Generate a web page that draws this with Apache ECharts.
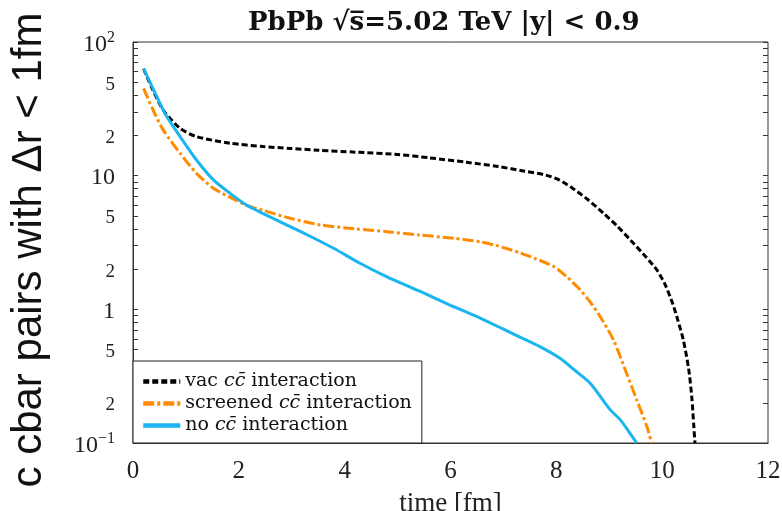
<!DOCTYPE html>
<html>
<head>
<meta charset="utf-8">
<script src="https://cdn.jsdelivr.net/npm/echarts@6/dist/echarts.min.js"></script>
<style>
  html, body { margin: 0; padding: 0; background: #fff; }
  #chart { width: 782px; height: 511px; }
</style>
</head>
<body>
<div id="chart"></div>
<script>
// time [fm] and pair counts
const vacT = [0.2, 0.35, 0.57, 0.89, 1.2, 1.83, 2.46, 2.97, 3.5, 4.2, 5.0, 5.6, 6.3, 6.9, 7.4, 7.8, 8.05, 8.3, 8.6, 8.9, 9.15, 9.4, 9.7, 9.9, 10.05, 10.2, 10.3, 10.4, 10.5, 10.56, 10.6, 10.62];
const vacV = [63, 46, 31, 22.6, 19.6, 17.5, 16.5, 16.0, 15.5, 15.0, 14.4, 13.6, 12.6, 11.7, 10.8, 10.1, 9.3, 8.1, 6.6, 5.2, 4.2, 3.3, 2.45, 1.97, 1.55, 1.1, 0.82, 0.59, 0.36, 0.22, 0.13, 0.1];

const scrT = [0.2, 0.38, 0.57, 0.89, 1.2, 1.52, 1.83, 2.15, 2.46, 2.97, 3.54, 4.2, 4.8, 5.4, 6.06, 6.56, 6.87, 7.31, 7.6, 7.95, 8.2, 8.45, 8.65, 8.83, 9.08, 9.33, 9.52, 9.71, 9.8];
const scrV = [45, 31, 22, 14.7, 10.4, 8.05, 6.9, 6.0, 5.5, 4.8, 4.28, 4.0, 3.81, 3.6, 3.40, 3.2, 3.0, 2.65, 2.4, 2.09, 1.75, 1.40, 1.12, 0.88, 0.59, 0.33, 0.21, 0.133, 0.1];

const noT = [0.2, 0.42, 0.62, 0.89, 1.2, 1.52, 1.83, 2.15, 2.46, 2.97, 3.3, 3.8, 4.29, 4.8, 5.43, 6.0, 6.18, 6.56, 7.0, 7.31, 7.69, 8.07, 8.35, 8.64, 9.02, 9.21, 9.38, 9.52];
const noV = [63.5, 41.3, 28.4, 19.6, 13.1, 9.3, 7.4, 6.0, 5.2, 4.16, 3.6, 2.85, 2.21, 1.75, 1.36, 1.07, 1.0, 0.86, 0.71, 0.62, 0.526, 0.43, 0.35, 0.28, 0.177, 0.149, 0.12, 0.1];

const yTicks = [0.1, 0.2, 0.3, 0.4, 0.5, 0.6, 0.7, 0.8, 0.9, 1, 2, 3, 4, 5, 6, 7, 8, 9, 10, 20, 30, 40, 50, 60, 70, 80, 90, 100];
const yLabels = [0.1, 0.2, 0.5, 1, 2, 5, 10, 20, 50, 100];

const legendText = {
  vac: 'vac {i|cc\u0304} interaction',
  screened: 'screened {i|cc\u0304} interaction',
  no: 'no {i|cc\u0304} interaction'
};

function pairs(t, v) {
  return t.map((x, i) => [x, v[i]]);
}

function yLabel(v) {
  if (v === 100) return '{maj|10}{sup|2}';
  if (v === 0.1) return '{maj|10}{sup|\u22121}';
  if (v === 10 || v === 1) return '{maj|' + v + '}';
  return '{min|' + String(v).replace(/[0.]/g, '') + '}';
}

const chart = echarts.init(document.getElementById('chart'));
chart.setOption({
  animation: false,
  title: {
    text: 'PbPb \u221As\u0305=5.02 TeV |y| < 0.9',
    left: 243,
    top: 5,
    textStyle: { fontFamily: 'DejaVu Serif', fontSize: 26, fontWeight: 'bold', color: '#111' }
  },
  grid: {
    left: 133, right: 14, top: 42, bottom: 68,
    outerBoundsMode: 'none',
    show: true, borderColor: '#333', borderWidth: 1
  },
  legend: {
    left: 133,
    bottom: 68,
    orient: 'vertical',
    itemWidth: 37,
    itemHeight: 10,
    itemGap: 3,
    padding: [11, 10, 8, 8],
    backgroundColor: '#fff',
    borderColor: '#222',
    borderWidth: 1,
    borderRadius: 0,
    itemStyle: { opacity: 0 },
    lineStyle: { width: 4.5 },
    formatter: name => legendText[name],
    textStyle: {
      fontFamily: 'DejaVu Serif',
      fontSize: 19,
      color: '#111',
      rich: {
        i: { fontFamily: 'DejaVu Serif', fontStyle: 'italic', fontSize: 19, color: '#111' }
      }
    }
  },
  xAxis: {
    type: 'value',
    min: 0,
    max: 12,
    interval: 2,
    name: 'time [fm]',
    nameLocation: 'middle',
    nameGap: 47,
    nameTextStyle: { fontFamily: 'Liberation Serif', fontSize: 27, color: '#222' },
    axisLine: { show: true, lineStyle: { color: '#333', width: 1 } },
    axisTick: { show: false },
    splitLine: { show: false },
    axisLabel: { margin: 16, fontFamily: 'Liberation Serif', fontSize: 25, color: '#222' }
  },
  yAxis: [
    {
      type: 'log',
      logBase: 10,
      min: 0.1,
      max: 100,
      position: 'left',
      axisLine: { show: true, lineStyle: { color: '#333', width: 1 } },
      axisTick: { show: true, inside: true, length: 5, customValues: yTicks, lineStyle: { color: '#333' } },
      splitLine: { show: false },
      axisLabel: {
        margin: 18,
        padding: [5, 0, 0, 0],
        customValues: yLabels,
        formatter: yLabel,
        rich: {
          maj: { fontFamily: 'Liberation Serif', fontSize: 24, color: '#222' },
          sup: { fontFamily: 'Liberation Serif', fontSize: 16, color: '#222', padding: [0, 0, 13, 0] },
          min: { fontFamily: 'Liberation Serif', fontSize: 19, color: '#222' }
        }
      }
    },
    {
      type: 'log',
      logBase: 10,
      min: 0.1,
      max: 100,
      position: 'right',
      axisLine: { show: false },
      axisTick: { show: true, inside: true, length: 5, customValues: yTicks, lineStyle: { color: '#333' } },
      splitLine: { show: false },
      axisLabel: { show: false }
    }
  ],
  graphic: [
    {
      type: 'text',
      x: 29,
      y: 250,
      rotation: Math.PI / 2,
      style: {
        text: 'c cbar pairs with \u0394r < 1fm',
        fontFamily: 'Liberation Sans',
        fontSize: 42,
        fill: '#111',
        textAlign: 'center',
        textVerticalAlign: 'middle'
      }
    }
  ],
  series: [
    {
      name: 'vac',
      type: 'line',
      data: pairs(vacT, vacV),
      showSymbol: false,
      symbol: 'none',
      smooth: 0.25,
      itemStyle: { color: '#000' },
      lineStyle: { color: '#000', width: 3, type: [6, 3] }
    },
    {
      name: 'screened',
      type: 'line',
      data: pairs(scrT, scrV),
      showSymbol: false,
      symbol: 'none',
      smooth: 0.25,
      itemStyle: { color: '#ff8c00' },
      lineStyle: { color: '#ff8c00', width: 3, type: [11, 3, 3, 3] }
    },
    {
      name: 'no',
      type: 'line',
      data: pairs(noT, noV),
      showSymbol: false,
      symbol: 'none',
      smooth: 0.25,
      itemStyle: { color: '#1ab4f0' },
      lineStyle: { color: '#1ab4f0', width: 3 }
    }
  ]
});
</script>
</body>
</html>
